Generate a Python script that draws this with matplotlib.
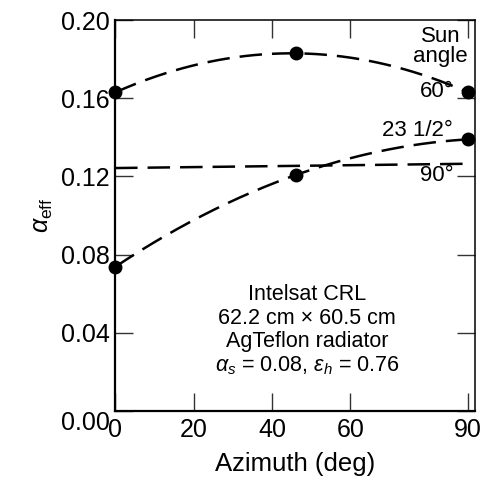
import numpy as np
import matplotlib
matplotlib.use('Agg')
import matplotlib.pyplot as plt

# ───── Data ─────
azimuth_pts   = [0, 46, 90]
alpha_60      = [0.163, 0.183, 0.163]
alpha_23half  = [0.0737, 0.1207, 0.139]
azimuth_90    = [0, 90]
alpha_90      = [0.1243, 0.1265]

x_ticks       = [0, 20, 40, 60, 90]
y_ticks       = [0.00, 0.04, 0.08, 0.12, 0.16, 0.20]

# ───── Style ─────
plt.rcParams['font.family'] = ['Liberation Sans', 'DejaVu Sans']
plt.rcParams['mathtext.fontset'] = 'custom'
plt.rcParams['mathtext.rm'] = 'Liberation Sans'
plt.rcParams['mathtext.it'] = 'Liberation Sans:italic'
plt.rcParams['mathtext.bf'] = 'Liberation Sans:bold'

fig = plt.figure(figsize=(4.96, 4.79), dpi=100)
ax = fig.add_axes([0.232, 0.142, 0.726, 0.816])

DASH = (9, 4)
LW = 1.8

# smooth quadratic trend through each set of measured points
xs = np.linspace(0, 90, 200)
for ys in (alpha_60, alpha_23half):
    coef = np.polyfit(azimuth_pts, ys, 2)
    ax.plot(xs, np.polyval(coef, xs), color='black', lw=LW, dashes=DASH, clip_on=False)
    ax.plot(azimuth_pts, ys, 'o', color='black', ms=9, clip_on=False, zorder=5)

ax.plot(azimuth_90, alpha_90, color='black', lw=LW, dashes=DASH, clip_on=False)

# ───── Axes ─────
ax.set_xlim(0, 91.8)
ax.set_ylim(0, 0.20)
ax.set_xticks(x_ticks)
ax.set_yticks(y_ticks)
ax.set_yticklabels([f'{v:.2f}' for v in y_ticks])
ax.tick_params(direction='in', length=13, width=1, labelsize=18,
               top=True, right=True, color='#333333')
ax.tick_params(axis='y', pad=4)
ax.tick_params(axis='x', pad=5)
ax.get_yticklabels()[0].set_verticalalignment('top')
for side in ('left', 'bottom'):
    ax.spines[side].set_linewidth(1.6)
for side in ('top', 'right'):
    ax.spines[side].set_linewidth(1.1)

ax.set_xlabel('Azimuth (deg)', fontsize=18.5, labelpad=7)
ax.set_ylabel(r'$\alpha_{\rm eff}$', fontsize=18, labelpad=4)

# ───── Labels ─────
ax.text(83, 0.1867, 'Sun\nangle', fontsize=16, ha='center', va='center', linespacing=0.95)
ax.text(82, 0.1637, '60°', fontsize=16, ha='center', va='center')
ax.text(77, 0.1437, '23 1/2°', fontsize=16, ha='center', va='center')
ax.text(82, 0.1207, '90°', fontsize=16, ha='center', va='center')

ax.text(49, 0.041,
        'Intelsat CRL\n62.2 cm × 60.5 cm\nAgTeflon radiator\n'
        r'$\alpha_s$ = 0.08, $\varepsilon_h$ = 0.76',
        fontsize=15.5, ha='center', va='center', linespacing=1.15)

fig.savefig('out.png', dpi=100)
